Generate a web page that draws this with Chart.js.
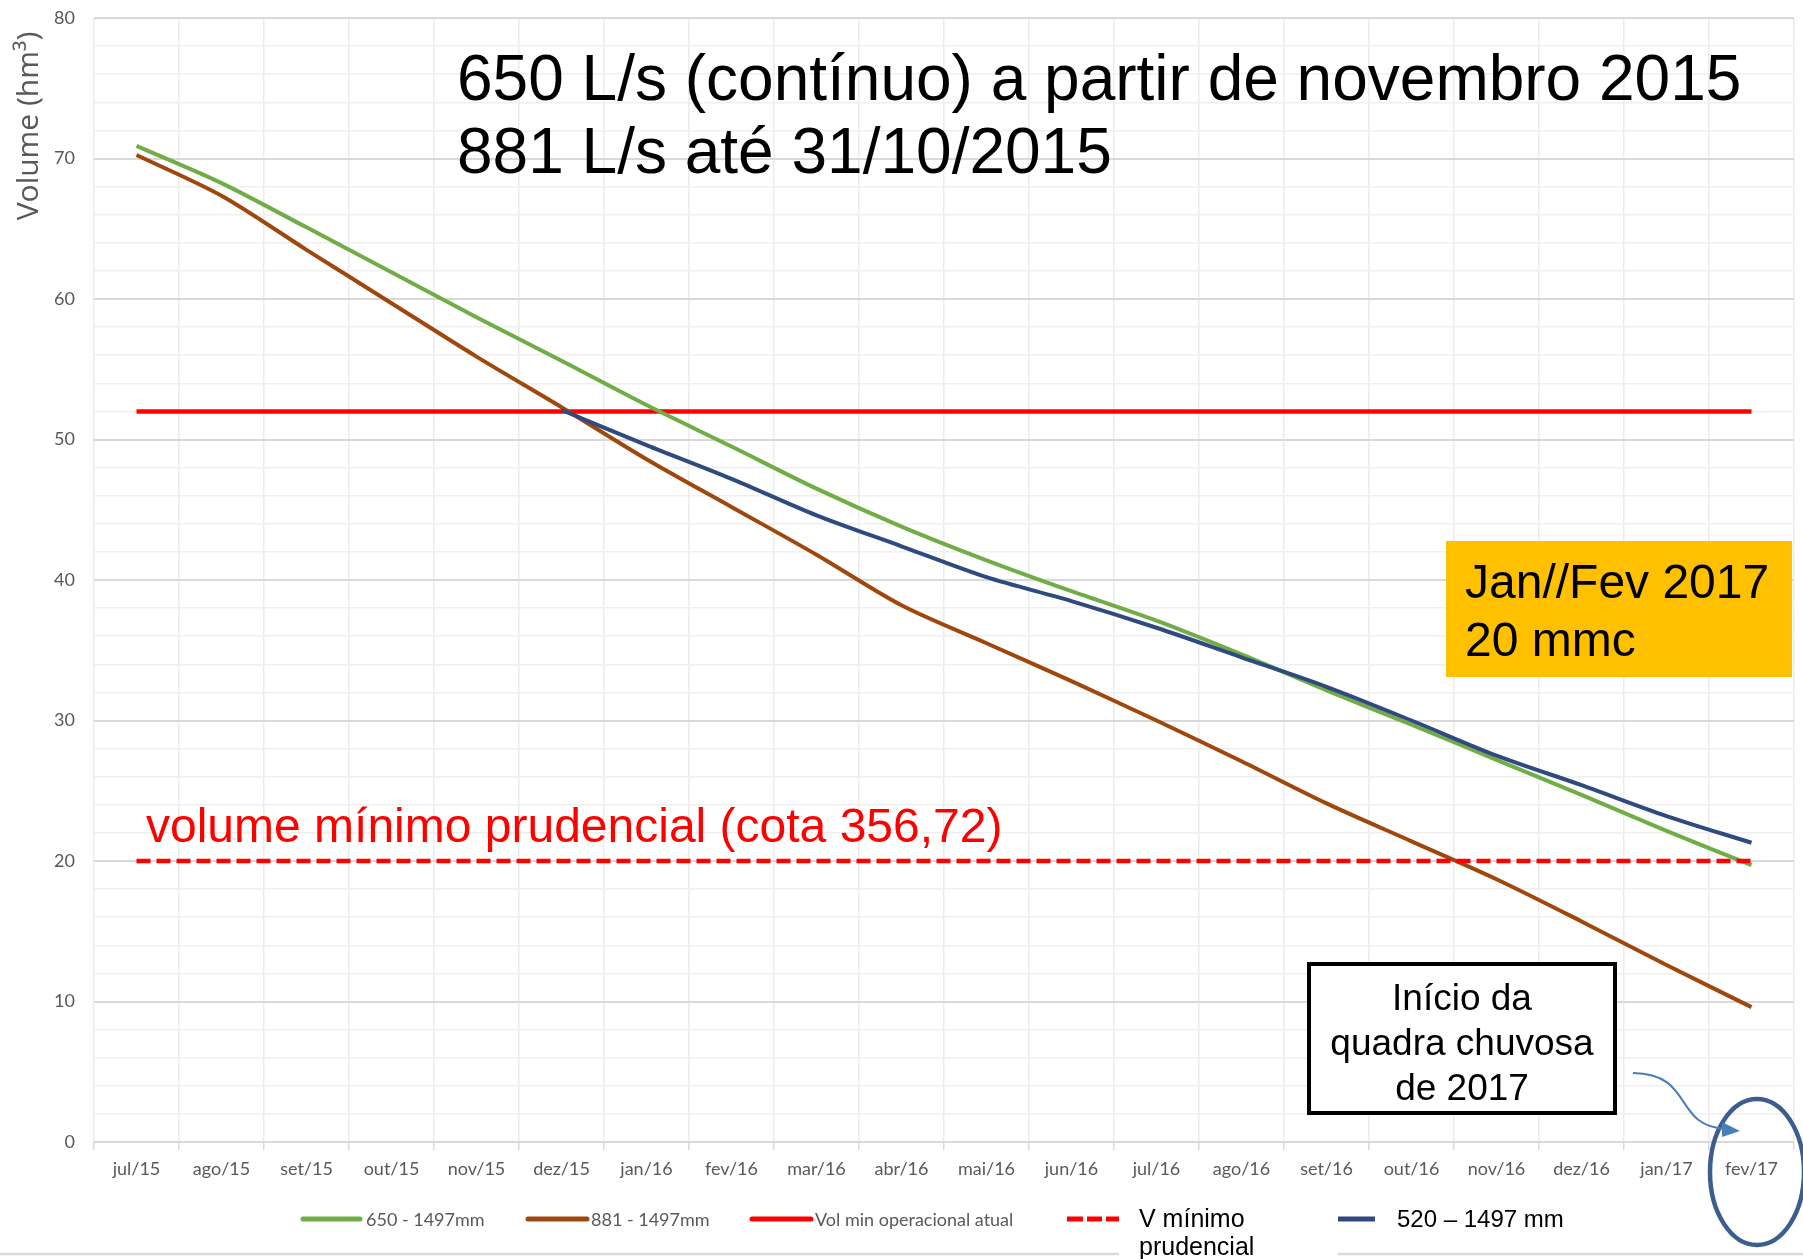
<!DOCTYPE html>
<html><head><meta charset="utf-8">
<script src="https://cdn.jsdelivr.net/npm/chart.js@4.4.0/dist/chart.umd.min.js"></script>
<style>html,body{margin:0;padding:0;background:#fff;overflow:hidden}#wrap{width:1803px;height:1259px;position:relative}</style>
</head><body><div id="wrap"><canvas id="c" width="1803" height="1259"></canvas></div>
<script>
// ---- data ----
const categories = ['jul/15','ago/15','set/15','out/15','nov/15','dez/15','jan/16','fev/16','mar/16','abr/16','mai/16','jun/16','jul/16','ago/16','set/16','out/16','nov/16','dez/16','jan/17','fev/17'];
const serie650 = [70.9, 68.25, 65.1, 61.9, 58.7, 55.6, 52.45, 49.5, 46.5, 43.8, 41.4, 39.2, 37.1, 34.7, 32.15, 29.7, 27.2, 24.7, 22.15, 19.7];
const serie881 = [70.25, 67.35, 63.5, 59.7, 55.9, 52.3, 48.6, 45.2, 41.8, 38.2, 35.5, 32.8, 30.0, 27.1, 24.1, 21.4, 18.7, 15.7, 12.6, 9.6];
const serie520 = [null, null, null, null, null, 52.1, 49.6, 47.2, 44.6, 42.4, 40.2, 38.5, 36.6, 34.5, 32.4, 30.0, 27.5, 25.4, 23.2, 21.3];
const volMinOperacional = [52,52,52,52,52,52,52,52,52,52,52,52,52,52,52,52,52,52,52,52];
const vMinimoPrudencial = [20,20,20,20,20,20,20,20,20,20,20,20,20,20,20,20,20,20,20,20];
const seriesLabels = ['650 - 1497mm','881 - 1497mm','Vol min operacional atual','V mínimo prudencial','520 – 1497 mm'];
const yMin = 0, yMax = 80, yStep = 2, yLabelEvery = 10;
const yTitle = 'Volume (hm³)';
const titleLines = ['650 L/s (contínuo) a partir de novembro 2015', '881 L/s até 31/10/2015'];
const redNote = 'volume mínimo prudencial (cota 356,72)';
const orangeLines = ['Jan//Fev 2017', '20 mmc'];
const boxLines = ['Início da', 'quadra chuvosa', 'de 2017'];

const C_GREEN = '#70AD47', C_BROWN = '#9E480E', C_RED = '#FF0000', C_BLUE = '#2E4A7E';
const GRAY = '#595959';

const annot = {
  id: 'annot',
  afterDraw(chart) {
    const c = chart.ctx;
    c.save();
    // y-axis title
    c.save();
    c.translate(38, 126);
    c.rotate(-Math.PI / 2);
    c.font = '30px "Open Sans"';
    c.fillStyle = GRAY; c.textAlign = 'center'; c.textBaseline = 'alphabetic';
    c.fillText(yTitle, 0, 0);
    c.restore();

    const ARIAL = '"Liberation Sans", Arial, sans-serif';
    // title
    c.fillStyle = '#000'; c.textAlign = 'left'; c.textBaseline = 'alphabetic';
    c.font = '64px ' + ARIAL;
    c.fillText(titleLines[0], 457, 100);
    c.fillText(titleLines[1], 457, 173);

    // red note
    c.fillStyle = C_RED; c.font = '48px ' + ARIAL;
    c.fillText(redNote, 146, 842);

    // orange box
    c.fillStyle = '#FFC000';
    c.fillRect(1446, 541, 346, 136);
    c.fillStyle = '#000'; c.font = '48px ' + ARIAL;
    c.fillText(orangeLines[0], 1465, 598);
    c.fillText(orangeLines[1], 1465, 656);

    // inicio box
    c.fillStyle = '#fff';
    c.fillRect(1309, 964, 306, 149);
    c.strokeStyle = '#000'; c.lineWidth = 4;
    c.strokeRect(1309, 964, 306, 149);
    c.fillStyle = '#000'; c.font = '37px ' + ARIAL; c.textAlign = 'center';
    c.fillText(boxLines[0], 1462, 1010);
    c.fillText(boxLines[1], 1462, 1055);
    c.fillText(boxLines[2], 1462, 1100);

    // ellipse
    c.beginPath();
    c.ellipse(1757, 1172, 47, 73, 0, 0, Math.PI * 2);
    c.strokeStyle = '#3D5D8E'; c.lineWidth = 4.5; c.stroke();

    // arrow
    c.beginPath();
    c.moveTo(1633, 1073);
    c.bezierCurveTo(1695, 1074, 1672, 1126, 1726, 1129);
    c.strokeStyle = '#4A7EBB'; c.lineWidth = 2; c.stroke();
    c.beginPath();
    c.moveTo(1740, 1131);
    c.lineTo(1722, 1122);
    c.lineTo(1722, 1137);
    c.closePath();
    c.fillStyle = '#4A7EBB'; c.fill();

    // bottom separator line
    c.strokeStyle = '#d9d9d9'; c.lineWidth = 2.5;
    c.beginPath(); c.moveTo(0, 1254); c.lineTo(1119, 1254); c.moveTo(1338, 1254); c.lineTo(1803, 1254); c.stroke();

    // legend
    const ds = chart.data.datasets;
    const ly = 1219;
    c.textAlign = 'left';
    function seg(x1, x2, col, cap) {
      c.beginPath(); c.moveTo(x1, ly); c.lineTo(x2, ly);
      c.strokeStyle = col; c.lineWidth = 5; c.lineCap = cap; c.stroke();
    }
    c.font = '18px Lato'; c.fillStyle = GRAY; c.textBaseline = 'middle';
    seg(303, 360, ds[0].borderColor, 'round'); c.fillText(ds[0].label, 366, ly + 1);
    seg(528, 587, ds[1].borderColor, 'round'); c.fillText(ds[1].label, 591, ly + 1);
    seg(752, 811, ds[2].borderColor, 'round'); c.fillText(ds[2].label, 815, ly + 1);
    seg(1067, 1083, ds[3].borderColor, 'butt');
    seg(1087, 1102, ds[3].borderColor, 'butt');
    seg(1106, 1119, ds[3].borderColor, 'butt');
    c.textBaseline = 'alphabetic'; c.fillStyle = '#000'; c.font = '25px ' + ARIAL;
    const lbl = ds[3].label; const sp = lbl.lastIndexOf(' ');
    c.fillText(lbl.slice(0, sp), 1139, 1227);
    c.fillText(lbl.slice(sp + 1), 1139, 1255);
    seg(1338, 1375, ds[4].borderColor, 'butt');
    c.font = '24px ' + ARIAL;
    c.fillText(ds[4].label, 1397, 1227);
    c.restore();
  }
};

function build() {
  const lineDs = (label, data, color, order, extra) => Object.assign({
    label, data, borderColor: color, backgroundColor: color, borderWidth: 4,
    pointRadius: 0, pointHoverRadius: 0, tension: 0.3, fill: false, order, spanGaps: false
  }, extra || {});
  new Chart(document.getElementById('c'), {
    type: 'line',
    data: {
      labels: categories,
      datasets: [
        lineDs(seriesLabels[0], serie650, C_GREEN, 3),
        lineDs(seriesLabels[1], serie881, C_BROWN, 4),
        lineDs(seriesLabels[2], volMinOperacional, C_RED, 5, {borderWidth: 4.5, tension: 0}),
        lineDs(seriesLabels[3], vMinimoPrudencial, C_RED, 1, {borderWidth: 4.5, tension: 0, borderDash: [14, 6]}),
        lineDs(seriesLabels[4], serie520, C_BLUE, 2)
      ]
    },
    options: {
      responsive: false, animation: false, devicePixelRatio: 1,
      layout: { padding: { top: 18, right: 9, left: 0, bottom: 0 } },
      plugins: { legend: { display: false }, tooltip: { enabled: false } },
      scales: {
        x: {
          offset: true,
          grid: { offset: true, color: '#ececec', lineWidth: 1.5, drawTicks: true, tickLength: 8, tickColor: '#d9d9d9' },
          border: { display: false },
          ticks: { color: GRAY, font: { family: 'Lato', size: 18 }, padding: 8, maxRotation: 0, autoSkip: false },
          afterFit(s) { s.height = 117; s.paddingLeft = 0; s.paddingRight = 0; }
        },
        y: {
          min: yMin, max: yMax,
          grid: {
            drawTicks: false,
            color: (ctx) => (ctx.tick && ctx.tick.value % yLabelEvery === 0) ? '#d9d9d9' : '#efefef',
            lineWidth: (ctx) => (ctx.tick && ctx.tick.value % yLabelEvery === 0) ? 2 : 1.5
          },
          border: { display: false },
          ticks: {
            stepSize: yStep, color: GRAY, font: { family: 'Lato', size: 18 }, padding: 19, autoSkip: false,
            callback: (v) => (v % yLabelEvery === 0 ? String(v) : '')
          },
          afterFit(s) { s.width = 94; s.paddingTop = 0; s.paddingBottom = 0; }
        }
      }
    },
    plugins: [annot]
  });
}
Promise.all(['18px Lato', '30px "Open Sans"', '48px "Liberation Sans"'].map(f => document.fonts.load(f).catch(() => null)))
  .then(build, build);
</script></body></html>
